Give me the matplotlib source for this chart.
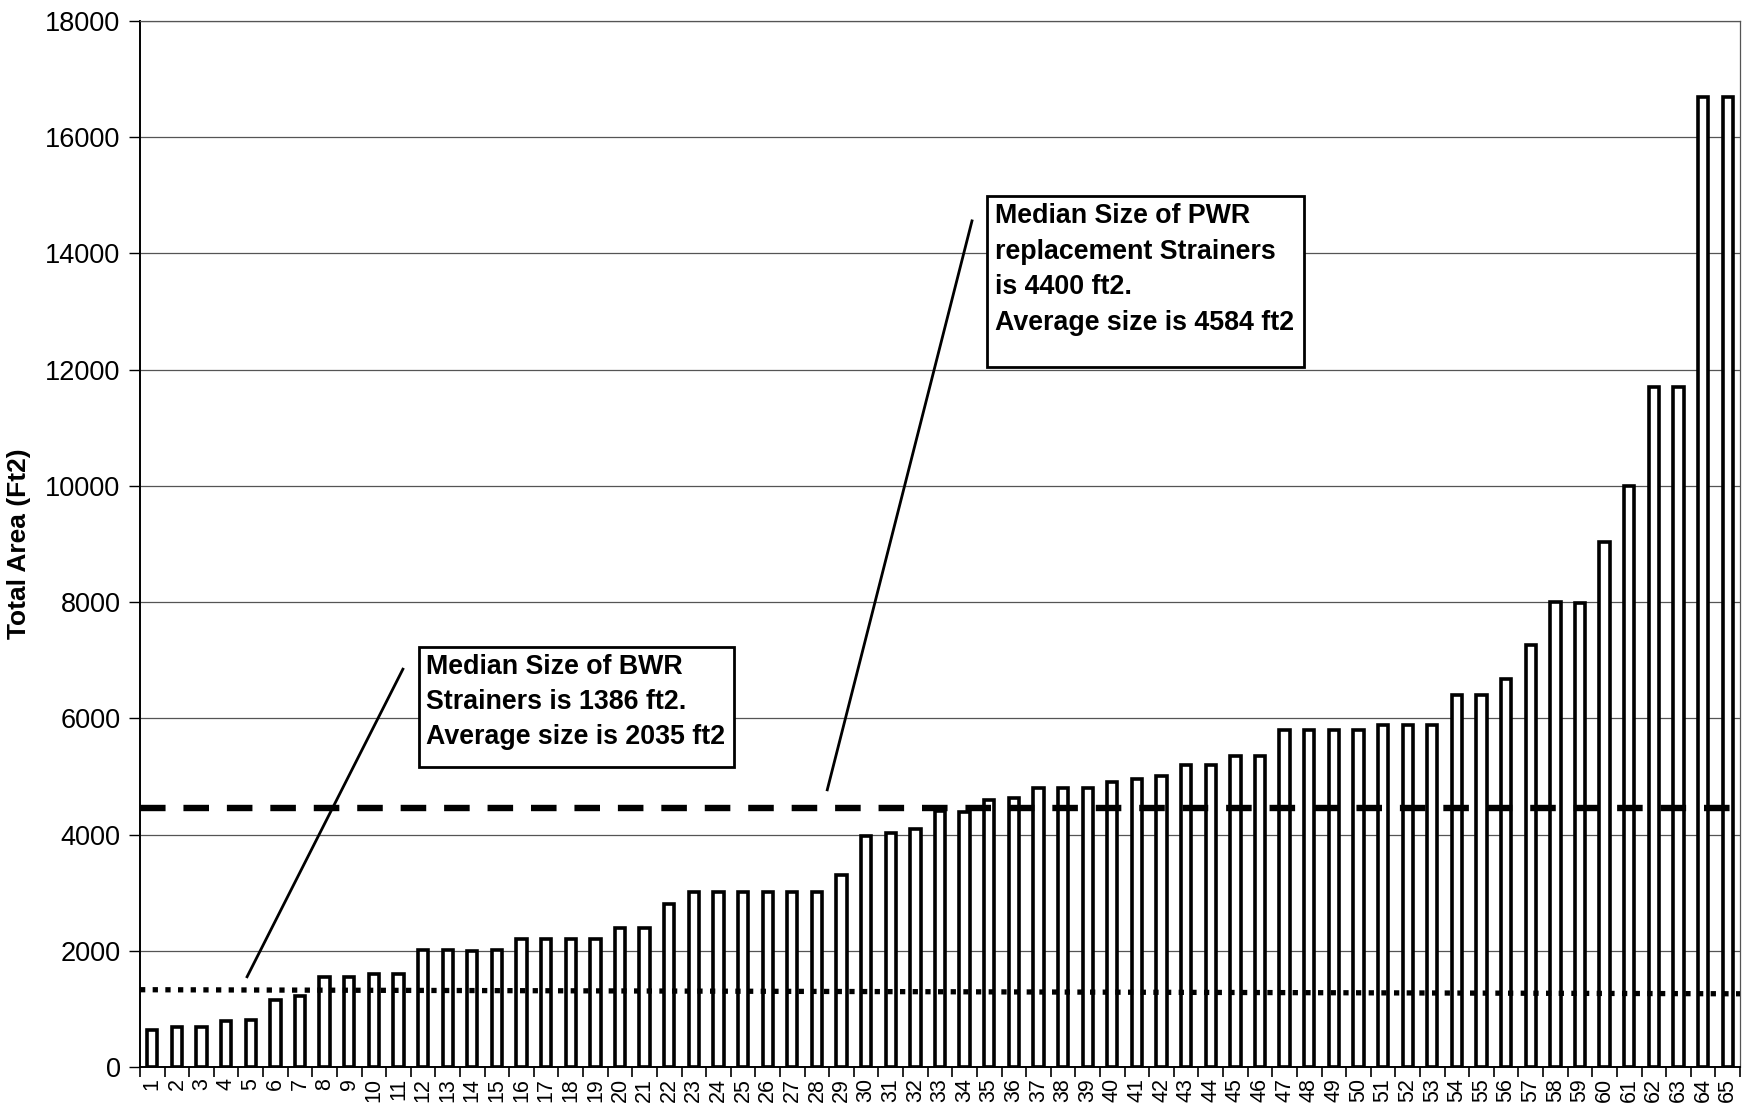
import matplotlib.pyplot as plt
from matplotlib.patches import Rectangle
import numpy as np

plt.rcParams['font.family'] = ['Liberation Sans', 'DejaVu Sans']

# bar heights (ft2), strainers 1..65 sorted by size
areas = [645, 692, 692, 795, 807, 1147, 1222, 1545, 1556, 1608,
         1608, 2010, 2010, 1988, 2005, 2200, 2200, 2200, 2200, 2400,
         2400, 2800, 3010, 3010, 3010, 3010, 3010, 3010, 3300, 3980,
         4020, 4100, 4410, 4390, 4600, 4630, 4800, 4800, 4800, 4900,
         4950, 5000, 5200, 5200, 5360, 5360, 5800, 5800, 5800, 5800,
         5880, 5880, 5880, 6400, 6400, 6670, 7270, 8000, 7980, 9030,
         9990, 11700, 11700, 16700, 16700]
strainer = list(range(1, len(areas) + 1))

# reference lines (left end, right end)
pwr_median = [4450, 4450]
bwr_median = [1330, 1260]

bwr_text = ["Median Size of BWR", "Strainers is 1386 ft2.", "Average size is 2035 ft2"]
pwr_text = ["Median Size of PWR", "replacement Strainers", "is 4400 ft2.",
            "Average size is 4584 ft2"]

fig = plt.figure(figsize=(17.46, 11.13), dpi=100)
ax = fig.add_axes([140/1746, 1-1067/1113, 1600/1746, 1046/1113])

ax.bar(strainer, areas, width=0.42, color='white', edgecolor='black',
       linewidth=2.6, zorder=2)

ax.set_xlim(0.5, 65.5)
ax.set_ylim(0, 18000)
ax.set_yticks(np.arange(0, 18001, 2000))
ax.yaxis.grid(True, color='#555555', linewidth=0.9, zorder=0)
ax.set_axisbelow(True)

ax.set_xticks(strainer)
ax.set_xticklabels([str(s) for s in strainer], rotation=90, fontsize=15.5)
ax.set_xticks(np.arange(0.5, 66, 1), minor=True)
ax.tick_params(axis='x', which='major', length=0, pad=8)
ax.tick_params(axis='x', which='minor', length=7, width=1.2, direction='out')
ax.tick_params(axis='y', labelsize=19.5, length=8, width=1.0, pad=6)

for s in ['left', 'bottom']:
    ax.spines[s].set_linewidth(1.4)
ax.spines['top'].set_color('#555555')
ax.spines['top'].set_linewidth(0.9)
ax.spines['right'].set_color('#555555')
ax.spines['right'].set_linewidth(0.9)

ax.set_ylabel("Total Area (Ft2)", fontsize=19, fontweight='bold', labelpad=10)

xl = ax.get_xlim()
ax.plot(xl, pwr_median, color='black', linewidth=4.6,
        linestyle=(0, (4.0, 2.8)), zorder=3)
ax.plot(xl, bwr_median, color='black', linewidth=3.8,
        linestyle=(0, (1, 1.4)), zorder=3)

# leader lines
ax.plot([11.18, 4.85], [6846, 1553], color='black', linewidth=2.0, zorder=4)
ax.plot([34.3, 28.42], [14560, 4770], color='black', linewidth=2.0, zorder=4)

# text boxes
ax.add_patch(Rectangle((11.83, 5158), 24.64-11.83, 7229-5158, facecolor='white',
                       edgecolor='black', linewidth=2.0, zorder=5))
for i, t in enumerate(bwr_text):
    ax.text(12.12, 6890 - i*603, t, fontsize=19.3, fontweight='bold',
            va='center', ha='left', zorder=6)

ax.add_patch(Rectangle((34.91, 12050), 47.78-34.91, 14995-12050, facecolor='white',
                       edgecolor='black', linewidth=2.0, zorder=5))
for i, t in enumerate(pwr_text):
    ax.text(35.25, 14638 - i*612, t, fontsize=19.3, fontweight='bold',
            va='center', ha='left', zorder=6)

fig.savefig('out.png', dpi=100, facecolor='white')
